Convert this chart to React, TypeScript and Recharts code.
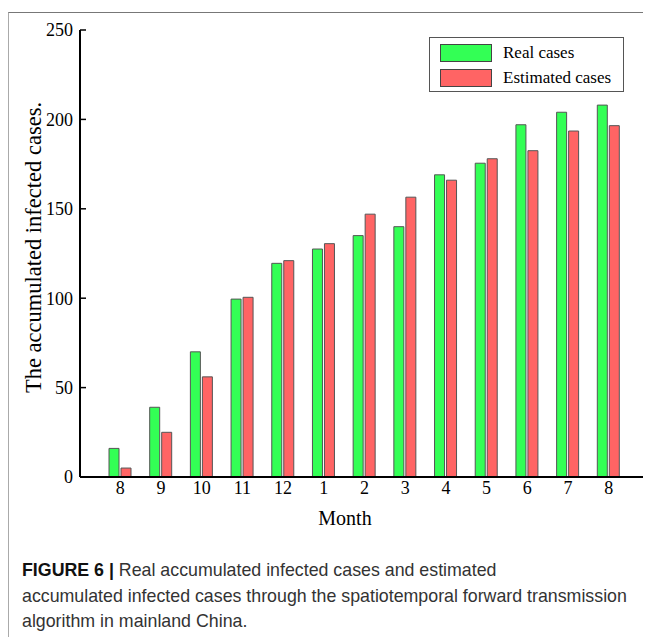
import { BarChart, Bar, XAxis, YAxis, Legend, Label } from 'recharts';

// values
const months = ['8', '9', '10', '11', '12', '1', '2', '3', '4', '5', '6', '7', '8'];
const realCases = [16, 39, 70, 99.5, 119.5, 127.5, 135, 140, 169, 175.5, 197, 204, 208];
const estimatedCases = [5, 25, 56, 100.5, 121, 130.5, 147, 156.5, 166, 178, 182.5, 193.5, 196.5];
const yTicks = [0, 50, 100, 150, 200, 250];

const series = [
    { key: 'real', name: 'Real cases', color: '#33ff55' },
    { key: 'estimated', name: 'Estimated cases', color: '#ff6464' },
];

const data = months.map((month, i) => ({
    month,
    real: realCases[i],
    estimated: estimatedCases[i],
}));

const serif = "'Liberation Serif', 'Times New Roman', serif";
const sans = "'Liberation Sans', Arial, Helvetica, sans-serif";

// ticks point inward, into the plot
const YTick = (props: any) => {
    const { x, y, payload } = props;
    const axisX = x + 7;
    return (
        <g>
            <line x1={axisX} x2={axisX + 6} y1={y} y2={y} stroke="#000" strokeWidth={1.5} />
            <text x={x} y={y} dy="0.35em" textAnchor="end" fontFamily={serif} fontSize={18} fill="#000">
                {payload.value}
            </text>
        </g>
    );
};

const renderLegend = () => (
    <div
        style={{
            border: '1.5px solid #555',
            background: '#fff',
            padding: '2px 10px 0 10px',
            width: 173,
            fontFamily: serif,
            fontSize: 17,
            color: '#000',
        }}
    >
        {series.map((s) => (
            <div key={s.key} style={{ display: 'flex', alignItems: 'center', height: 25.5 }}>
                <span
                    style={{
                        display: 'inline-block',
                        width: 50,
                        height: 16,
                        background: s.color,
                        border: '1px solid #444',
                        marginRight: 11,
                    }}
                />
                <span>{s.name}</span>
            </div>
        ))}
    </div>
);

export default function App() {
    return (
        <div
            style={{
                marginTop: 4,
                width: 643,
                height: 625,
                boxSizing: 'border-box',
                borderTop: '1px solid #777',
                borderLeft: '1px solid #aaa',
                background: '#fff',
            }}
        >
            <BarChart
                width={642}
                height={519}
                data={data}
                margin={{ top: 17, right: 1, left: 0, bottom: 0 }}
                barSize={10}
                barGap={2}
            >
                <XAxis
                    dataKey="month"
                    height={55}
                    padding={{ left: 20, right: 21 }}
                    tickLine={false}
                    tickSize={0}
                    tickMargin={4}
                    axisLine={{ stroke: '#000', strokeWidth: 2 }}
                    tick={{ fontFamily: serif, fontSize: 18, fill: '#000' }}
                    interval={0}
                >
                    <Label
                        content={({ viewBox }: any) => (
                            <text
                                x={viewBox.x + viewBox.width / 2 - 20}
                                y={viewBox.y + 48}
                                textAnchor="middle"
                                fontFamily={serif}
                                fontSize={20}
                                fill="#000"
                            >
                                Month
                            </text>
                        )}
                    />
                </XAxis>
                {/* top edge of the frame */}
                <XAxis
                    xAxisId="top"
                    orientation="top"
                    dataKey="month"
                    height={0}
                    tick={false}
                    tickLine={false}
                    axisLine={{ stroke: '#000', strokeWidth: 2 }}
                />
                <YAxis
                    width={71}
                    domain={[0, 250]}
                    ticks={yTicks}
                    tickLine={false}
                    tickSize={0}
                    tickMargin={7}
                    axisLine={{ stroke: '#000', strokeWidth: 2 }}
                    tick={<YTick />}
                >
                    <Label
                        content={({ viewBox }: any) => {
                            const cx = 32;
                            const cy = viewBox.y + viewBox.height / 2 - 6;
                            return (
                                <text
                                    x={cx}
                                    y={cy}
                                    transform={`rotate(-90, ${cx}, ${cy})`}
                                    textAnchor="middle"
                                    fontFamily={serif}
                                    fontSize={22.5}
                                    fill="#000"
                                >
                                    The accumulated infected cases.
                                </text>
                            );
                        }}
                    />
                </YAxis>
                {/* right edge of the frame */}
                <YAxis
                    yAxisId="right"
                    orientation="right"
                    width={0}
                    domain={[0, 250]}
                    tick={false}
                    tickLine={false}
                    axisLine={{ stroke: '#000', strokeWidth: 2 }}
                />
                <Legend
                    layout="horizontal"
                    align="center"
                    verticalAlign="middle"
                    content={renderLegend}
                    wrapperStyle={{ left: 420, top: 24, width: 'auto', height: 'auto' }}
                />
                {series.map((s) => (
                    <Bar
                        key={s.key}
                        dataKey={s.key}
                        name={s.name}
                        fill={s.color}
                        stroke="#555"
                        strokeWidth={1}
                        isAnimationActive={false}
                    />
                ))}
            </BarChart>
            <div
                style={{
                    margin: '26px 0 0 13px',
                    fontFamily: sans,
                    fontSize: 17.8,
                    lineHeight: '25.5px',
                    color: '#333',
                    whiteSpace: 'nowrap',
                }}
            >
                <b style={{ color: '#111' }}>FIGURE 6 |</b> Real accumulated infected cases and estimated
                <br />
                accumulated infected cases through the spatiotemporal forward transmission
                <br />
                algorithm in mainland China.
            </div>
        </div>
    );
}
